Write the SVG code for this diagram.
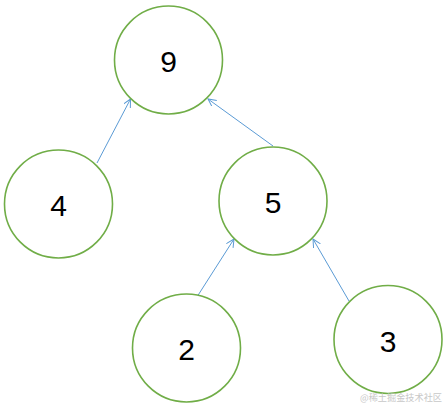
<svg xmlns="http://www.w3.org/2000/svg" width="447" height="406" viewBox="0 0 447 406">
<defs>
<marker id="arr" markerWidth="10" markerHeight="10" refX="8" refY="4" orient="auto" markerUnits="userSpaceOnUse">
<path d="M0,0 L8,4 L0,8" fill="none" stroke="#5b9bd5" stroke-width="1"/>
</marker>
<style>
.n{fill:#fff;stroke:#70ad47;stroke-width:1.6}
.t{font-family:"Liberation Sans","Open Sans",sans-serif;font-size:30px;fill:#000;text-anchor:middle;dominant-baseline:central}
.e{stroke:#5b9bd5;stroke-width:1;fill:none;marker-end:url(#arr)}
.w{font-family:"Noto Sans CJK SC",sans-serif;font-size:9px;fill:#c8c8c8}
</style>
</defs>
<rect width="447" height="406" fill="#fff"/>
<g id="edges">
<line class="e" x1="97" y1="163" x2="130.5" y2="99"/>
<line class="e" x1="273" y1="146" x2="208" y2="99"/>
<line class="e" x1="195" y1="300" x2="234" y2="239"/>
<line class="e" x1="349" y1="301" x2="313" y2="239"/>
</g>
<g id="n9"><circle class="n" cx="168.5" cy="60" r="54"/><text class="t" x="168.5" y="61">9</text></g>
<g id="n4"><circle class="n" cx="58.5" cy="204" r="54"/><text class="t" x="58.5" y="205">4</text></g>
<g id="n5"><circle class="n" cx="273" cy="201" r="54"/><text class="t" x="273" y="202">5</text></g>
<g id="n2"><circle class="n" cx="186.5" cy="348" r="54"/><text class="t" x="186.5" y="349">2</text></g>
<g id="n3"><circle class="n" cx="388" cy="339.5" r="54"/><text class="t" x="388" y="341">3</text></g>
<text class="w" x="360" y="401" textLength="82" lengthAdjust="spacingAndGlyphs">@稀土掘金技术社区</text>
</svg>
